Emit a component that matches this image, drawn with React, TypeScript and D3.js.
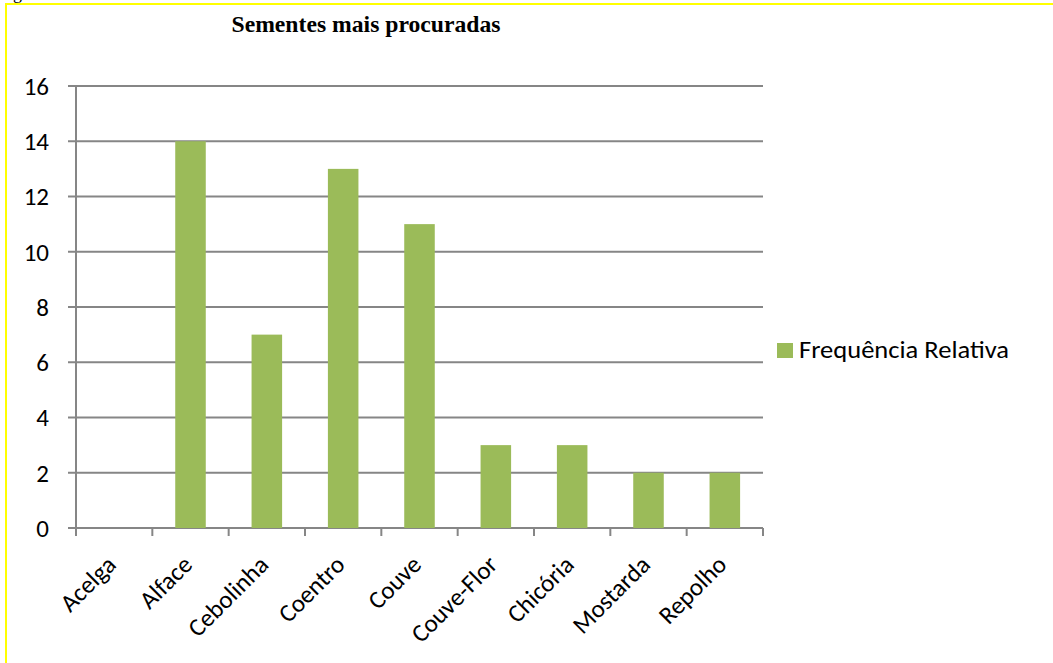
import React from "react";
import * as d3 from "d3";

const categories = ["Acelga", "Alface", "Cebolinha", "Coentro", "Couve", "Couve-Flor", "Chicória", "Mostarda", "Repolho"];
const values = [0, 14, 7, 13, 11, 3, 3, 2, 2];
const yTicks = [0, 2, 4, 6, 8, 10, 12, 14, 16];
const seriesName = "Frequência Relativa";
const title = "Sementes mais procuradas";

const W = 1053;
const H = 663;
const plot = { left: 76, right: 763, top: 86, bottom: 528 };
const font = "Carlito, Lato, 'Open Sans', sans-serif";
const serif = "'Liberation Serif', 'Times New Roman', serif";

export default function App() {
  const x = d3.scaleBand().domain(categories).range([plot.left, plot.right]).paddingInner(0.6).paddingOuter(0.3);
  const band = d3.scaleBand().domain(categories).range([plot.left, plot.right]);
  const y = d3.scaleLinear().domain([0, 16]).range([plot.bottom, plot.top]);

  return (
    <svg width={W} height={H} style={{ position: "absolute", left: 0, top: 0, background: "#fff" }}>
      <rect x={6} y={4} width={W + 20} height={H + 20} fill="#fff" stroke="#ffff00" strokeWidth={2} />
      {/* tail of a caption line above the chart, cut by the page */}
      <text x={13} y={-1} fontFamily={serif} fontSize={18}>g</text>
      <text x={366} y={32} textAnchor="middle" fontFamily={serif} fontWeight="bold" fontSize={23} textLength={269} lengthAdjust="spacingAndGlyphs">
        {title}
      </text>
      {yTicks.map((t) => (
        <g key={t}>
          <line x1={plot.left - 8} x2={plot.right} y1={y(t)} y2={y(t)} stroke="#868686" strokeWidth={2} />
          <text x={49} y={y(t)} dy="0.35em" textAnchor="end" fontFamily={font} fontSize={25} fill="#000">
            {t}
          </text>
        </g>
      ))}
      <line x1={plot.left} x2={plot.left} y1={plot.top} y2={plot.bottom} stroke="#868686" strokeWidth={2} />
      {categories.map((c) => (
        <line key={"t" + c} x1={band(c)!} x2={band(c)!} y1={plot.bottom} y2={plot.bottom + 8} stroke="#868686" strokeWidth={2} />
      ))}
      <line x1={plot.right} x2={plot.right} y1={plot.bottom} y2={plot.bottom + 8} stroke="#868686" strokeWidth={2} />
      {categories.map((c, i) =>
        values[i] > 0 ? (
          <rect key={"b" + c} x={x(c)!} y={y(values[i])} width={x.bandwidth()} height={y(0) - y(values[i])} fill="#9bbb59" />
        ) : null
      )}
      {categories.map((c) => {
        const cx = band(c)! + band.bandwidth() / 2 - 3;
        const cy = plot.bottom + 32;
        return (
          <text key={"l" + c} transform={`translate(${cx},${cy}) rotate(-45)`} textAnchor="end" dy="0.35em" fontFamily={font} fontSize={25} fill="#000">
            {c}
          </text>
        );
      })}
      <rect x={777} y={343} width={16} height={15} fill="#9bbb59" />
      <text x={799} y={358} fontFamily={font} fontSize={24} fill="#000" textLength={210} lengthAdjust="spacingAndGlyphs">
        {seriesName}
      </text>
    </svg>
  );
}
